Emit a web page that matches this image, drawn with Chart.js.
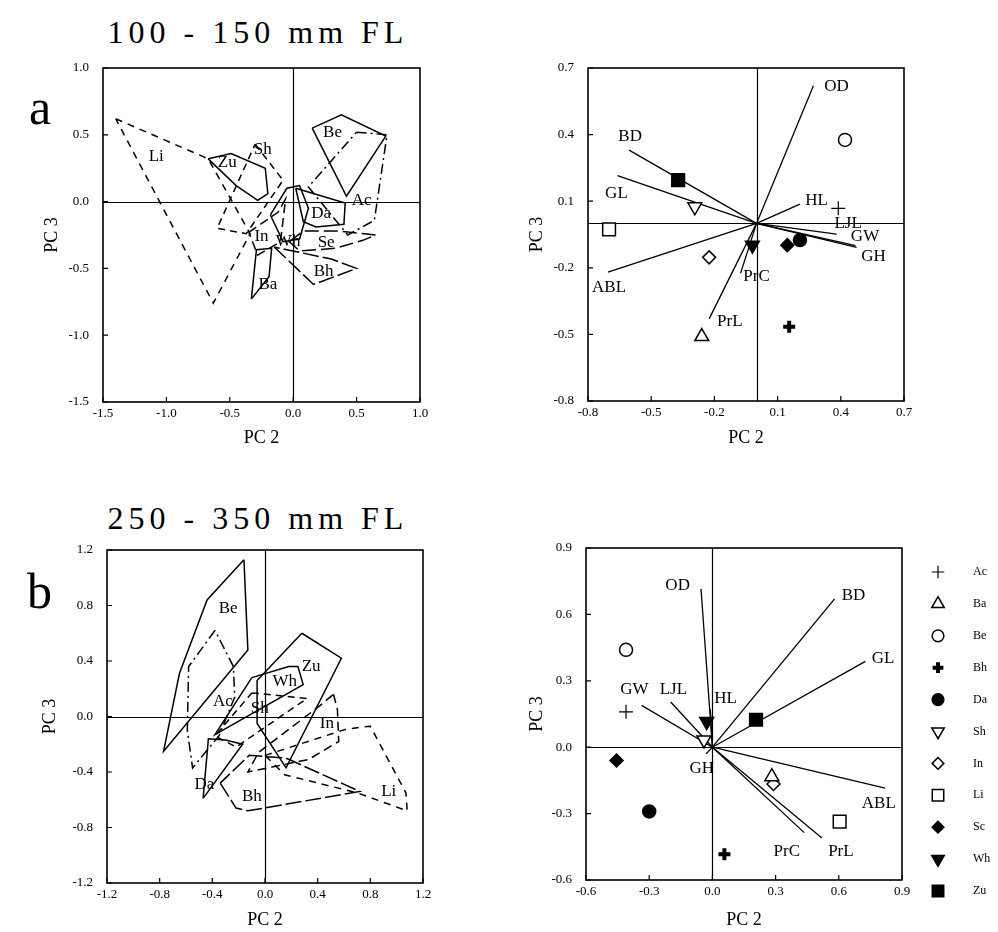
<!DOCTYPE html>
<html>
<head>
<meta charset="utf-8">
<script src="https://cdn.jsdelivr.net/npm/chart.js@4.4.1/dist/chart.umd.min.js"></script>
<style>
  body { margin: 0; background: #fff; width: 998px; height: 932px; position: relative; overflow: hidden; font-family: "Liberation Serif", serif; }
  canvas { position: absolute; left: 0; top: 0; }
  .head { position: absolute; left: 2px; width: 512px; text-align: center; font-size: 32px; line-height: 32px; letter-spacing: 5px; }
  .tag { position: absolute; font-size: 50px; line-height: 50px; }
</style>
</head>
<body>
<div class="head" style="top:16px">100 - 150 mm FL</div>
<div class="head" style="top:502px">250 - 350 mm FL</div>
<div class="tag" style="left:29px;top:82px">a</div>
<div class="tag" style="left:27px;top:566px">b</div>
<canvas id="aHull" width="998" height="932"></canvas>
<canvas id="aBi" width="998" height="932"></canvas>
<canvas id="bHull" width="998" height="932"></canvas>
<canvas id="bBi" width="998" height="932"></canvas>
<script>
const species = ['Ac', 'Ba', 'Be', 'Bh', 'Da', 'Sh', 'In', 'Li', 'Sc', 'Wh', 'Zu'];
const variables = ['OD', 'BD', 'GL', 'ABL', 'PrL', 'PrC', 'HL', 'LJL', 'GW', 'GH'];

// tick labels
const aHullTicks = [-1.5, -1.0, -0.5, 0.0, 0.5, 1.0];
const aBiTicks = [-0.8, -0.5, -0.2, 0.1, 0.4, 0.7];
const bHullTicks = [-1.2, -0.8, -0.4, 0.0, 0.4, 0.8, 1.2];
const bBiTicks = [-0.6, -0.3, 0.0, 0.3, 0.6, 0.9];

// --- a: 100 - 150 mm FL, hulls of PC2/PC3 scores
const aLi = [[-1.40, 0.62], [-0.67, 0.32], [-0.34, -0.24], [-0.63, -0.76]];
const aZu = [[-0.67, 0.32], [-0.49, 0.36], [-0.22, 0.25], [-0.20, 0.06], [-0.28, 0.01], [-0.45, 0.12]];
const aSh = [[-0.30, 0.43], [-0.08, 0.16], [-0.37, -0.24], [-0.60, -0.20]];
const aBe = [[0.15, 0.55], [0.38, 0.65], [0.73, 0.49], [0.42, 0.04]];
const aAc = [[0.50, 0.52], [0.74, 0.50], [0.64, -0.14], [0.43, -0.25], [0.12, 0.11]];
const aDa = [[0.02, 0.10], [0.41, -0.01], [0.40, -0.17], [0.18, -0.19], [0.08, -0.15]];
const aSe = [[-0.03, -0.30], [0.08, -0.22], [0.36, -0.22], [0.65, -0.25], [0.55, -0.29], [0.33, -0.35], [0.05, -0.37]];
const aBh = [[-0.15, -0.34], [0.16, -0.62], [0.50, -0.50], [0.30, -0.43], [-0.05, -0.36]];
const aWh = [[-0.18, -0.10], [-0.05, 0.10], [0.05, 0.12], [0.12, -0.05], [0.05, -0.28], [-0.08, -0.30]];
const aIn = [[-0.35, -0.23], [-0.12, -0.08], [-0.06, 0.02], [-0.10, -0.30], [-0.28, -0.40]];
const aBa = [[-0.33, -0.73], [-0.29, -0.36], [-0.17, -0.35], [-0.19, -0.56]];
const aHullNames = ['Li', 'Zu', 'Sh', 'Be', 'Ac', 'Da', 'Se', 'Bh', 'Wh', 'In', 'Ba'];
const aHullLabelX = [-1.08, -0.52, -0.24, 0.31, 0.54, 0.22, 0.26, 0.24, -0.04, -0.25, -0.20];
const aHullLabelY = [0.34, 0.29, 0.39, 0.52, 0.01, -0.09, -0.31, -0.52, -0.30, -0.26, -0.62];

// --- a: biplot
const aScoreX = [0.388, -0.26, 0.42, 0.155, 0.206, -0.293, -0.225, -0.70, 0.146, -0.02, -0.372];
const aScoreY = [0.068, -0.51, 0.376, -0.466, -0.075, 0.075, -0.153, -0.027, -0.098, -0.098, 0.195];
const aLoadX = [0.27, -0.605, -0.66, -0.705, -0.225, -0.076, 0.206, 0.38, 0.47, 0.475];
const aLoadY = [0.62, 0.33, 0.215, -0.22, -0.43, -0.225, 0.087, -0.048, -0.10, -0.108];
const aVarLabelX = [0.38, -0.60, -0.665, -0.70, -0.127, 0.0, 0.285, 0.435, 0.515, 0.555];
const aVarLabelY = [0.615, 0.39, 0.135, -0.29, -0.44, -0.24, 0.105, 0.0, -0.06, -0.15];

// --- b: 250 - 350 mm FL, hulls
const bBe = [[-0.16, 1.13], [-0.44, 0.84], [-0.65, 0.31], [-0.77, -0.25], [-0.13, 0.48]];
const bAc = [[-0.38, 0.62], [-0.58, 0.36], [-0.59, -0.10], [-0.55, -0.37], [-0.35, -0.14], [-0.23, 0.14], [-0.24, 0.36]];
const bZu = [[0.28, 0.60], [0.58, 0.42], [0.16, -0.37], [-0.06, -0.05], [-0.06, 0.26]];
const bWh = [[-0.10, 0.28], [0.18, 0.36], [0.25, 0.36], [0.29, 0.23], [-0.38, -0.13]];
const bSh = [[-0.10, 0.17], [0.32, 0.13], [-0.22, -0.22], [-0.38, -0.14]];
const bIn = [[0.52, 0.16], [0.55, 0.05], [0.56, -0.18], [0.33, -0.31], [-0.13, -0.40], [-0.05, -0.26], [0.42, 0.08]];
const bLi = [[0.0, -0.28], [0.62, -0.09], [0.80, -0.07], [1.07, -0.55], [1.08, -0.68], [0.70, -0.55], [0.15, -0.42]];
const bBh = [[-0.34, -0.48], [-0.22, -0.66], [-0.13, -0.68], [0.72, -0.54], [0.16, -0.30], [-0.12, -0.28]];
const bDa = [[-0.47, -0.59], [-0.43, -0.16], [-0.30, -0.17], [-0.17, -0.20]];
const bHullNames = ['Be', 'Ac', 'Zu', 'Wh', 'Sh', 'In', 'Li', 'Bh', 'Da'];
const bHullLabelX = [-0.28, -0.32, 0.35, 0.15, -0.04, 0.47, 0.94, -0.10, -0.46];
const bHullLabelY = [0.78, 0.11, 0.36, 0.25, 0.06, -0.05, -0.54, -0.58, -0.49];

// --- b: biplot
const bScoreX = [-0.41, 0.282, -0.41, 0.057, -0.30, -0.04, 0.29, 0.604, -0.455, -0.027, 0.207];
const bScoreY = [0.16, -0.133, 0.44, -0.484, -0.29, 0.033, -0.166, -0.336, -0.06, 0.116, 0.124];
const bLoadX = [-0.054, 0.58, 0.726, 0.82, 0.52, 0.436, -0.01, -0.198, -0.336, -0.03];
const bLoadY = [0.715, 0.67, 0.388, -0.185, -0.41, -0.386, 0.17, 0.204, 0.189, -0.03];
const bVarLabelX = [-0.165, 0.67, 0.81, 0.79, 0.61, 0.353, 0.063, -0.185, -0.37, -0.05];
const bVarLabelY = [0.73, 0.685, 0.40, -0.256, -0.472, -0.472, 0.22, 0.26, 0.26, -0.095];

// marker look per species (same order as species)
const markStyle = ['cross', 'triangle', 'circle', 'cross', 'circle', 'triangle', 'rectRot', 'rect', 'rectRot', 'triangle', 'rect'];
const markFill = [false, false, false, true, true, false, false, false, true, true, true];
const markRot = [0, 0, 0, 0, 0, 180, 0, 0, 0, 180, 0];
const markSize = [7, 8, 6.5, 6, 6.5, 8, 6.5, 9, 6.5, 8, 9];
const markWidth = [1.2, 1.5, 1.5, 4, 1.5, 1.5, 1.5, 1.5, 1.5, 1.5, 1.5];

// line pattern of each hull
const hullDash = {
  Li: [7, 6], Sh: [7, 5], Ac: [10, 4, 2, 4], Se: [14, 5], Bh: [16, 4], In: [9, 5],
  Zu: [], Be: [], Da: [], Wh: [], Ba: []
};

const FONT = '"Liberation Serif", serif';

const decor = {
  id: 'decor',
  beforeDatasetsDraw(chart) {
    const { ctx, chartArea: a, scales: { x, y } } = chart;
    ctx.save();
    ctx.strokeStyle = '#000';
    ctx.lineWidth = 1.2;
    ctx.beginPath();
    const x0 = Math.round(x.getPixelForValue(0)) + 0.5;
    const y0 = Math.round(y.getPixelForValue(0)) + 0.5;
    ctx.moveTo(x0, a.top); ctx.lineTo(x0, a.bottom);
    ctx.moveTo(a.left, y0); ctx.lineTo(a.right, y0);
    ctx.stroke();
    ctx.restore();
  },
  afterDatasetsDraw(chart, args, opts) {
    const { ctx, chartArea: a, scales: { x, y } } = chart;
    ctx.save();
    ctx.strokeStyle = '#000';
    ctx.lineWidth = 1.6;
    ctx.strokeRect(a.left, a.top, a.right - a.left, a.bottom - a.top);
    ctx.lineWidth = 1.2;
    ctx.beginPath();
    x.ticks.forEach(t => {
      const px = x.getPixelForValue(t.value);
      ctx.moveTo(px, a.bottom); ctx.lineTo(px, a.bottom - 5);
    });
    y.ticks.forEach(t => {
      const py = y.getPixelForValue(t.value);
      ctx.moveTo(a.left, py); ctx.lineTo(a.left + 5, py);
    });
    ctx.stroke();
    // text labels placed in data space
    ctx.fillStyle = '#000';
    ctx.font = '17px ' + FONT;
    ctx.textAlign = 'center';
    ctx.textBaseline = 'middle';
    (opts.names || []).forEach((n, i) => {
      ctx.fillText(n, x.getPixelForValue(opts.lx[i]), y.getPixelForValue(opts.ly[i]));
    });
    if (opts.legend) {
      ctx.font = '12px ' + FONT;
      ctx.textAlign = 'left';
      species.forEach((s, i) => {
        const py = 572 + i * 31.9;
        ctx.strokeStyle = '#000';
        ctx.fillStyle = markFill[i] ? '#000' : '#fff';
        ctx.lineWidth = markWidth[i];
        Chart.helpers.drawPoint(ctx, { pointStyle: markStyle[i], radius: markSize[i] * 0.9, rotation: markRot[i], borderWidth: markWidth[i] }, 938, py);
        ctx.fillStyle = '#000';
        ctx.fillText(s, 973, py);
      });
    }
    ctx.restore();
  }
};

function axis(pos, ticks, size, title) {
  return {
    type: 'linear',
    position: pos,
    min: ticks[0],
    max: ticks[ticks.length - 1],
    grid: { display: false },
    border: { display: false },
    afterBuildTicks: s => { s.ticks = ticks.map(v => ({ value: v })); },
    afterFit: s => { if (pos === 'left') s.width = size; else s.height = size; },
    ticks: {
      autoSkip: false, maxRotation: 0, padding: pos === 'left' ? 6 : -4,
      color: '#000', font: { family: FONT, size: 13 },
      callback: v => v.toFixed(1)
    },
    title: { display: true, text: title, color: '#000', padding: 0, font: { family: FONT, size: 18 } }
  };
}

function hullSets(names, polys) {
  return polys.map((p, i) => ({
    type: 'line',
    label: names[i],
    data: p.concat([p[0]]).map(q => ({ x: q[0], y: q[1] })),
    showLine: true,
    fill: false,
    tension: 0,
    borderColor: '#000',
    borderWidth: 1.5,
    borderDash: hullDash[names[i]],
    pointRadius: 0
  }));
}

function biSets(sx, sy, lx, ly) {
  const pts = species.map((s, i) => ({
    type: 'scatter',
    label: s,
    order: 0,
    data: [{ x: sx[i], y: sy[i] }],
    pointStyle: markStyle[i],
    pointRotation: markRot[i],
    pointRadius: markSize[i],
    pointBorderWidth: markWidth[i],
    borderColor: '#000',
    backgroundColor: markFill[i] ? '#000' : '#fff'
  }));
  const vecs = variables.map((v, i) => ({
    type: 'line',
    label: v,
    order: 1,
    data: [{ x: 0, y: 0 }, { x: lx[i], y: ly[i] }],
    borderColor: '#000',
    borderWidth: 1.3,
    pointRadius: 0
  }));
  return pts.concat(vecs);
}

function panel(id, box, xt, yt, datasets, extra) {
  // box: chart area left, top, right, bottom + y-axis width + x-axis height
  new Chart(document.getElementById(id), {
    type: 'scatter',
    data: { datasets: datasets },
    options: {
      responsive: false,
      animation: false,
      events: [],
      layout: { padding: { left: box[0] - box[4], top: box[1], right: 998 - box[2], bottom: 932 - box[3] - box[5] } },
      plugins: { legend: { display: false }, tooltip: { enabled: false }, decor: extra },
      scales: {
        x: axis('bottom', xt, box[5], 'PC 2'),
        y: axis('left', yt, box[4], 'PC 3')
      }
    },
    plugins: [decor]
  });
}

panel('aHull', [103, 68, 420, 402, 62, 47], aHullTicks, aHullTicks,
  hullSets(aHullNames, [aLi, aZu, aSh, aBe, aAc, aDa, aSe, aBh, aWh, aIn, aBa]),
  { names: aHullNames, lx: aHullLabelX, ly: aHullLabelY });

panel('aBi', [588, 68, 904, 401, 62, 48], aBiTicks, aBiTicks,
  biSets(aScoreX, aScoreY, aLoadX, aLoadY),
  { names: variables, lx: aVarLabelX, ly: aVarLabelY });

panel('bHull', [107, 550, 423, 883, 68, 48], bHullTicks, bHullTicks,
  hullSets(bHullNames, [bBe, bAc, bZu, bWh, bSh, bIn, bLi, bBh, bDa]),
  { names: bHullNames, lx: bHullLabelX, ly: bHullLabelY });

panel('bBi', [586, 548, 902, 880, 60, 51], bBiTicks, bBiTicks,
  biSets(bScoreX, bScoreY, bLoadX, bLoadY),
  { names: variables, lx: bVarLabelX, ly: bVarLabelY, legend: true });
</script>
</body>
</html>
